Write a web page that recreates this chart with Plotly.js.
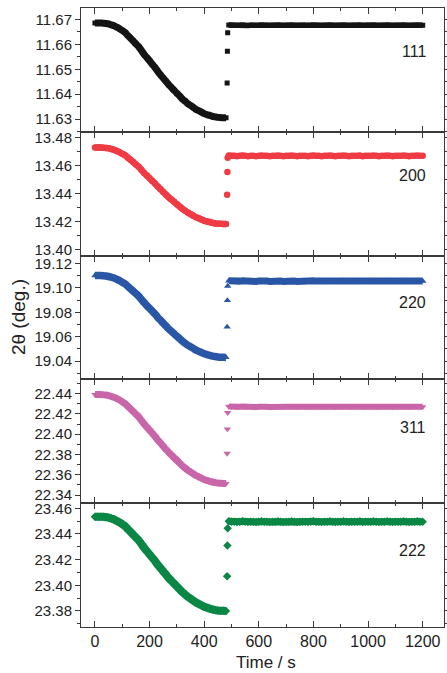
<!DOCTYPE html>
<html>
<head>
<meta charset="utf-8">
<script src="https://cdn.plot.ly/plotly-3.0.1.min.js"></script>
<style>html,body{margin:0;padding:0;background:#fff;}#chart{width:447px;height:673px;}</style>
</head>
<body>
<div id="chart"></div>
<script>
// ---- data (Time / s ; 2theta / deg.) ----
const declineTime = [0,10,20,30,40,50,60,70,80,90,100,110,120,130,140,150,160,170,180,190,200,210,220,230,240,250,260,270,280,290,300,310,320,330,340,350,360,370,380,390,400,410,420,430,440,450,460,470,480];
const jumpTime = [484,485,486];
const plateauTime = [490,500,510,520,530,540,550,560,570,580,590,600,610,620,630,640,650,660,670,680,690,700,710,720,730,740,750,760,770,780,790,800,810,820,830,840,850,860,870,880,890,900,910,920,930,940,950,960,970,980,990,1000,1010,1020,1030,1040,1050,1060,1070,1080,1090,1100,1110,1120,1130,1140,1150,1160,1170,1180,1190,1200];

const labels = ["111","200","220","311","222"];

const decline111 = [11.6686,11.6686,11.6686,11.6685,11.6684,11.6682,11.6678,11.6675,11.6669,11.6663,11.6656,11.6648,11.6636,11.6625,11.6614,11.6602,11.6591,11.6576,11.6560,11.6547,11.6534,11.6520,11.6507,11.6492,11.6478,11.6465,11.6452,11.6438,11.6427,11.6415,11.6404,11.6393,11.6381,11.6372,11.6362,11.6355,11.6347,11.6339,11.6334,11.6328,11.6322,11.6318,11.6315,11.6311,11.6309,11.6307,11.6306,11.6305,11.6305];
const jump111 = [11.6445,11.6572,11.6647];
const plateau111 = [
11.6678,11.6677,11.6677,11.6676,11.6677,11.6678,11.6677,11.6676,11.6677,
11.6677,11.6676,11.6677,11.6678,11.6677,11.6677,11.6676,11.6677,11.6677,
11.6678,11.6677,11.6676,11.6677,11.6677,11.6678,11.6677,11.6676,11.6677,
11.6677,11.6677,11.6676,11.6677,11.6678,11.6677,11.6677,11.6676,11.6677,
11.6677,11.6678,11.6677,11.6676,11.6677,11.6677,11.6678,11.6677,11.6676,
11.6677,11.6677,11.6677,11.6678,11.6676,11.6677,11.6677,11.6677,11.6678,
11.6677,11.6676,11.6677,11.6677,11.6678,11.6677,11.6676,11.6677,11.6677,
11.6677,11.6678,11.6677,11.6676,11.6677,11.6677,11.6678,11.6677,11.6677];

const decline200 = [13.4728,13.4728,13.4728,13.4727,13.4725,13.4723,13.4717,13.4712,13.4704,13.4695,13.4684,13.4674,13.4657,13.4641,13.4625,13.4608,13.4592,13.4570,13.4548,13.4529,13.4510,13.4491,13.4472,13.4451,13.4432,13.4412,13.4393,13.4374,13.4358,13.4342,13.4325,13.4309,13.4293,13.4279,13.4266,13.4255,13.4244,13.4233,13.4225,13.4217,13.4208,13.4203,13.4198,13.4193,13.4189,13.4187,13.4186,13.4185,13.4184];
const jump200 = [13.4393,13.4555,13.4655];
const plateau200 = [
13.4671,13.4669,13.4669,13.4667,13.4669,13.4671,13.4669,13.4667,13.4669,
13.4669,13.4667,13.4669,13.4671,13.4669,13.4669,13.4667,13.4669,13.4669,
13.4671,13.4669,13.4667,13.4669,13.4669,13.4671,13.4669,13.4667,13.4669,
13.4669,13.4669,13.4667,13.4669,13.4671,13.4669,13.4669,13.4667,13.4669,
13.4669,13.4671,13.4669,13.4667,13.4669,13.4669,13.4671,13.4669,13.4667,
13.4669,13.4669,13.4669,13.4671,13.4667,13.4669,13.4669,13.4669,13.4671,
13.4669,13.4667,13.4669,13.4669,13.4671,13.4669,13.4667,13.4669,13.4669,
13.4669,13.4671,13.4669,13.4667,13.4669,13.4669,13.4671,13.4669,13.4669];

const decline220 = [19.1100,19.1100,19.1100,19.1099,19.1097,19.1093,19.1087,19.1080,19.1070,19.1060,19.1046,19.1033,19.1013,19.0993,19.0973,19.0953,19.0932,19.0906,19.0879,19.0855,19.0832,19.0809,19.0785,19.0758,19.0735,19.0711,19.0688,19.0664,19.0644,19.0624,19.0604,19.0584,19.0564,19.0547,19.0530,19.0517,19.0504,19.0490,19.0480,19.0470,19.0460,19.0453,19.0447,19.0441,19.0437,19.0434,19.0432,19.0431,19.0430];
const jump220 = [19.0680,19.0897,19.1014];
const plateau220 = [
19.1058,19.1055,19.1055,19.1052,19.1055,19.1058,19.1055,19.1052,19.1055,
19.1055,19.1052,19.1055,19.1058,19.1055,19.1055,19.1052,19.1055,19.1055,
19.1058,19.1055,19.1052,19.1055,19.1055,19.1058,19.1055,19.1052,19.1055,
19.1055,19.1055,19.1052,19.1055,19.1058,19.1055,19.1055,19.1052,19.1055,
19.1055,19.1058,19.1055,19.1052,19.1055,19.1055,19.1058,19.1055,19.1052,
19.1055,19.1055,19.1055,19.1058,19.1052,19.1055,19.1055,19.1055,19.1058,
19.1055,19.1052,19.1055,19.1055,19.1058,19.1055,19.1052,19.1055,19.1055,
19.1055,19.1058,19.1055,19.1052,19.1055,19.1055,19.1058,19.1055,19.1055];

const decline311 = [22.4390,22.4390,22.4390,22.4388,22.4386,22.4381,22.4372,22.4364,22.4351,22.4337,22.4320,22.4302,22.4276,22.4250,22.4224,22.4197,22.4171,22.4136,22.4101,22.4070,22.4040,22.4009,22.3978,22.3943,22.3913,22.3882,22.3851,22.3821,22.3794,22.3768,22.3742,22.3715,22.3689,22.3667,22.3645,22.3628,22.3610,22.3593,22.3580,22.3567,22.3553,22.3545,22.3536,22.3529,22.3523,22.3519,22.3517,22.3515,22.3514];
const jump311 = [22.3810,22.4050,22.4212];
const plateau311 = [
22.4273,22.4270,22.4270,22.4267,22.4270,22.4273,22.4270,22.4267,22.4270,
22.4270,22.4267,22.4270,22.4273,22.4270,22.4270,22.4267,22.4270,22.4270,
22.4273,22.4270,22.4267,22.4270,22.4270,22.4273,22.4270,22.4267,22.4270,
22.4270,22.4270,22.4267,22.4270,22.4273,22.4270,22.4270,22.4267,22.4270,
22.4270,22.4273,22.4270,22.4267,22.4270,22.4270,22.4273,22.4270,22.4267,
22.4270,22.4270,22.4270,22.4273,22.4267,22.4270,22.4270,22.4270,22.4273,
22.4270,22.4267,22.4270,22.4270,22.4273,22.4270,22.4267,22.4270,22.4270,
22.4270,22.4273,22.4270,22.4267,22.4270,22.4270,22.4273,22.4270,22.4270];

const decline222 = [23.4535,23.4535,23.4535,23.4534,23.4531,23.4528,23.4520,23.4513,23.4502,23.4491,23.4476,23.4461,23.4439,23.4417,23.4395,23.4373,23.4351,23.4322,23.4292,23.4267,23.4241,23.4215,23.4190,23.4160,23.4134,23.4109,23.4083,23.4057,23.4035,23.4013,23.3991,23.3969,23.3947,23.3929,23.3910,23.3896,23.3881,23.3866,23.3855,23.3844,23.3833,23.3826,23.3818,23.3812,23.3807,23.3804,23.3802,23.3801,23.3800];
const jump222 = [23.4070,23.4310,23.4445];
const plateau222 = [
23.4499,23.4496,23.4496,23.4493,23.4496,23.4499,23.4496,23.4493,23.4496,
23.4496,23.4493,23.4496,23.4499,23.4496,23.4496,23.4493,23.4496,23.4496,
23.4499,23.4496,23.4493,23.4496,23.4496,23.4499,23.4496,23.4493,23.4496,
23.4496,23.4496,23.4493,23.4496,23.4499,23.4496,23.4496,23.4493,23.4496,
23.4496,23.4499,23.4496,23.4493,23.4496,23.4496,23.4499,23.4496,23.4493,
23.4496,23.4496,23.4496,23.4499,23.4493,23.4496,23.4496,23.4496,23.4499,
23.4496,23.4493,23.4496,23.4496,23.4499,23.4496,23.4493,23.4496,23.4496,
23.4496,23.4499,23.4496,23.4493,23.4496,23.4496,23.4499,23.4496,23.4496];

// ---- styling ----
const series = [
  {d: decline111, j: jump111, p: plateau111, color: "#141414", symbol: "square", size: 5, band: 7, flat: 5.5},
  {d: decline200, j: jump200, p: plateau200, color: "#EE3B44", symbol: "circle", size: 6.5, band: 6.5, flat: 5.5},
  {d: decline220, j: jump220, p: plateau220, color: "#2A56A6", symbol: "triangle-up", size: 6.5, band: 7.5, flat: 7},
  {d: decline311, j: jump311, p: plateau311, color: "#C966A9", symbol: "triangle-down", size: 6.5, band: 7, flat: 6},
  {d: decline222, j: jump222, p: plateau222, color: "#0A8744", symbol: "diamond", size: 6.5, band: 8, flat: 7}
];
const yRanges = [[11.6249, 11.6746],[13.396, 13.484],[19.025, 19.1264],[22.332, 22.454],[23.3675, 23.464]];
const yDticks = [0.01, 0.02, 0.02, 0.02, 0.02];
const xRange = [-51, 1278];

const font = "Liberation Sans, Arial, Helvetica, sans-serif";
const axisColor = "#3a3a3a";

const traces = [];
series.forEach((s, i) => {
  const xa = i === 0 ? "x" : "x" + (i + 1);
  const ya = i === 0 ? "y" : "y" + (i + 1);
  const common = {type: "scatter", xaxis: xa, yaxis: ya, showlegend: false, hoverinfo: "skip"};
  traces.push(Object.assign({}, common, {
    mode: "lines+markers", x: declineTime, y: s.d,
    line: {color: s.color, width: s.band, shape: "spline", smoothing: 1},
    marker: {color: s.color, symbol: s.symbol, size: s.size, line: {width: 0}}
  }));
  traces.push(Object.assign({}, common, {
    mode: "markers", x: jumpTime, y: s.j,
    marker: {color: s.color, symbol: s.symbol, size: s.size, line: {width: 0}}
  }));
  traces.push(Object.assign({}, common, {
    mode: "lines+markers", x: plateauTime, y: s.p,
    line: {color: s.color, width: s.flat},
    marker: {color: s.color, symbol: s.symbol, size: s.size, line: {width: 0}}
  }));
});

const layout = {
  width: 447, height: 673,
  margin: {l: 81, r: 3, t: 8, b: 46},
  paper_bgcolor: "#fff", plot_bgcolor: "#fff",
  font: {family: font, color: "#222", size: 15},
  annotations: [],
  showlegend: false
};
for (let i = 0; i < 5; i++) {
  const sfx = i === 0 ? "" : String(i + 1);
  const top = 1 - i * 0.2, bot = 1 - (i + 1) * 0.2;
  layout["xaxis" + sfx] = {
    range: xRange, anchor: "y" + sfx, domain: [0, 1],
    showline: true, linecolor: axisColor, linewidth: 1, mirror: "ticks",
    ticks: "inside", ticklen: 6, tickcolor: axisColor, dtick: 200, tick0: 0,
    minor: {ticks: "inside", ticklen: 3, dtick: 100, tick0: 0, tickcolor: axisColor},
    showgrid: false, zeroline: false,
    showticklabels: i === 4,
    tickfont: {family: font, size: 16, color: "#222"}
  };
  if (i > 0) layout["xaxis" + sfx].matches = "x";
  layout["yaxis" + sfx] = {
    range: yRanges[i], anchor: "x" + sfx, domain: [Math.max(bot, 0), Math.min(top, 1)],
    showline: true, linecolor: axisColor, linewidth: 1, mirror: "ticks",
    ticks: "outside", ticklen: 5, tickcolor: axisColor,
    dtick: yDticks[i], tick0: 0, tickformat: ".2f",
    minor: {ticks: "outside", ticklen: 3, dtick: yDticks[i] / 2, tick0: 0, tickcolor: axisColor},
    showgrid: false, zeroline: false,
    tickfont: {family: font, size: 15, color: "#222"}
  };
}
const labelY = [0.929, 0.729, 0.525, 0.323, 0.123];
labels.forEach((t, i) => layout.annotations.push({
  text: t, xref: "paper", yref: "paper", x: 0.955, y: labelY[i],
  xanchor: "right", yanchor: "middle", showarrow: false,
  font: {family: font, size: 16, color: "#222"}
}));
layout.annotations.push({
  text: "2θ (deg.)", xref: "paper", yref: "paper", x: -0.172, y: 0.5,
  xanchor: "center", yanchor: "middle", textangle: -90, showarrow: false,
  font: {family: font, size: 19, color: "#222"}
});
layout.annotations.push({
  text: "Time / s", xref: "paper", yref: "paper", x: 0.51, y: -0.058,
  xanchor: "center", yanchor: "middle", showarrow: false,
  font: {family: font, size: 17, color: "#222"}
});

Plotly.newPlot("chart", traces, layout, {staticPlot: true, displayModeBar: false});
</script>
</body>
</html>
